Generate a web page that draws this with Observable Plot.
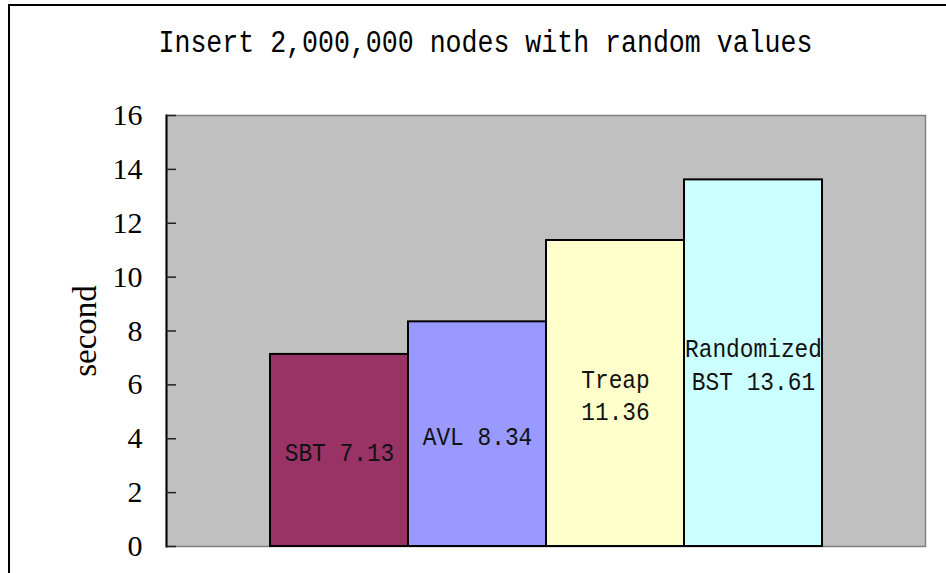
<!DOCTYPE html>
<html>
<head>
<meta charset="utf-8">
<script src="https://cdn.jsdelivr.net/npm/d3@7"></script>
<script src="https://cdn.jsdelivr.net/npm/@observablehq/plot@0.6"></script>
<style>
  html, body { margin: 0; padding: 0; background: #fff; overflow: hidden; width: 946px; height: 573px; }
  #wrap { position: relative; width: 946px; height: 573px; }
  #border { position: absolute; left: 8px; top: 4px; width: 980px; height: 700px; border: 2px solid #000; box-sizing: border-box; }
  #chart { position: absolute; left: 0; top: 0; }
</style>
</head>
<body>
<div id="wrap"><div id="border"></div><div id="chart"></div></div>
<script>
const titleText = "Insert 2,000,000 nodes with random values";
const yLabel = "second";
const categories = ["SBT", "AVL", "Treap", "Randomized BST"];
const values = [7.13, 8.34, 11.36, 13.61];
const barLabels = ["SBT 7.13", "AVL 8.34", "Treap\n11.36", "Randomized\nBST 13.61"];
const colors = ["#993366", "#9999FF", "#FFFFCC", "#CCFFFF"];
const yTicks = [0, 2, 4, 6, 8, 10, 12, 14, 16];

const data = categories.map((c, i) => ({name: c, value: values[i], label: barLabels[i], color: colors[i]}));

const chart = Plot.plot({
  width: 946,
  height: 573,
  marginLeft: 166,
  marginRight: 21,
  marginTop: 115,
  marginBottom: 27,
  style: {background: "transparent", overflow: "visible"},
  x: {type: "band", domain: categories, paddingInner: 0, paddingOuter: 0.75, axis: null},
  y: {domain: [0, 16], ticks: yTicks, label: null, axis: null},
  marks: [
    Plot.frame({fill: "#C0C0C0", stroke: "#808080", strokeWidth: 1.5}),
    Plot.barY(data, {x: "name", y: "value", fill: "color", stroke: "#000", strokeWidth: 2}),
    Plot.text(data, {x: "name", y: d => d.value / 2, text: "label", className: "barlabel", fontFamily: "Liberation Mono", fontSize: 26, lineHeight: 1.25, fill: "#111"}),
    Plot.frame({anchor: "left", stroke: "#000", strokeWidth: 2}),
    Plot.axisY(yTicks, {anchor: "left", tickSize: -10, text: null, stroke: "#222", strokeWidth: 1.5}),
    Plot.axisY(yTicks, {anchor: "left", tickSize: 0, tickPadding: 24, fontFamily: "Liberation Serif", fontSize: 30, fill: "#000", label: null}),
    Plot.text([yLabel], {frameAnchor: "left", textAnchor: "middle", lineAnchor: "middle", dx: -81, rotate: -90, fontFamily: "Liberation Serif", fontSize: 33, fill: "#000"}),
    Plot.text([titleText], {frameAnchor: "top-left", textAnchor: "start", lineAnchor: "middle", className: "charttitle", dx: -8, dy: -73, fontFamily: "Liberation Mono", fontSize: 31, fill: "#000"})
  ]
});
document.getElementById("chart").appendChild(chart);

// Narrow the monospace glyphs to the half-width advance of the reference font
function squeeze(el, advance) {
  const s = el.textContent;
  el.setAttribute("textLength", (s.length * advance).toFixed(1));
  el.setAttribute("lengthAdjust", "spacingAndGlyphs");
}
chart.querySelectorAll(".charttitle text").forEach(t => squeeze(t, 15.95));
chart.querySelectorAll(".barlabel text").forEach(t => {
  const spans = t.querySelectorAll("tspan");
  if (spans.length) spans.forEach(sp => squeeze(sp, 13.7));
  else squeeze(t, 13.7);
});
</script>
</body>
</html>
